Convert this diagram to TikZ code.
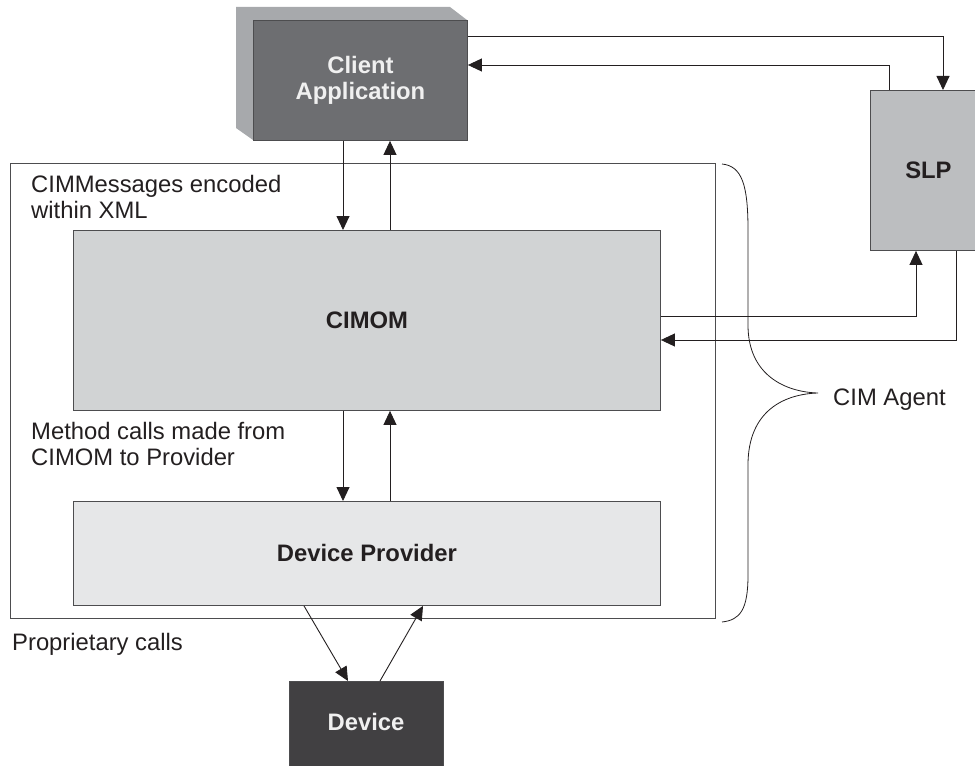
\documentclass[tikz,border=0pt]{standalone}
\usepackage{fontspec}
\setmainfont{Liberation Sans}
\usetikzlibrary{arrows.meta}
\definecolor{txt}{HTML}{231F20}
\definecolor{edge}{HTML}{4D4D4F}
\definecolor{gA}{HTML}{D1D3D4}
\definecolor{gB}{HTML}{E6E7E8}
\definecolor{gC}{HTML}{BCBEC0}
\definecolor{gFront}{HTML}{6D6E71}
\definecolor{gSide}{HTML}{A7A9AC}
\definecolor{gDev}{HTML}{414042}
\tikzset{
  box/.style={draw=edge, line width=0.9bp, rectangle, inner sep=0pt, anchor=north west,
    font=\fontsize{23.9}{26.5}\selectfont\bfseries, text=txt, align=center},
  lbl/.style={inner sep=0pt, font=\fontsize{23.9}{26}\selectfont, text=txt, align=left},
  arr/.style={draw=txt, line width=0.9bp, -{Triangle[length=14bp,width=13bp]}},
}
\begin{document}
\begin{tikzpicture}[x=1bp,y=-1bp]
\useasboundingbox (0,0) rectangle (975,766);
% helper coordinates
\coordinate (xa) at (343,0);
\coordinate (xb) at (390,0);
\coordinate (x889) at (889,0);
\coordinate (x943) at (943,0);
\coordinate (x916) at (916,0);
\coordinate (x956) at (956,0);
\coordinate (x304) at (304,0);
\coordinate (x348) at (348,0);
\coordinate (x380) at (380,0);
\coordinate (x423) at (423,0);
\coordinate (y36) at (0,36);
\coordinate (y65) at (0,65);
\coordinate (y316) at (0,316);
\coordinate (y340) at (0,340);
% outer CIM agent box
\node[box, minimum width=705bp, minimum height=455bp] (agent) at (10,163) {};
% client application (3D)
\fill[gSide] (236,7) -- (450,7) -- (467,20) -- (253,20) -- (253,140) -- (236,128) -- cycle;
\node[box, fill=gFront, text=white!94!black, minimum width=214bp, minimum height=120bp] (client) at (253,20) {Client\\Application};
% SLP
\node[box, fill=gC, minimum width=116bp, minimum height=160bp] (slp) at (870,90) {SLP};
% CIMOM
\node[box, fill=gA, minimum width=587bp, minimum height=180bp] (cimom) at (73,230) {CIMOM};
% Device provider
\node[box, fill=gB, minimum width=587bp, minimum height=104bp] (prov) at (73,501) {Device Provider};
% Device
\node[box, fill=gDev, minimum width=154bp, minimum height=95bp] (device) at (289,681) {};
\node[font=\fontsize{23.9}{26}\selectfont\bfseries, text=white!94!black, inner sep=0pt] (devicelabel) at (366,722) {Device};
% labels
\node[lbl, anchor=north west] (msg) at (31,175) {CIMMessages encoded\\within XML};
\node[lbl, anchor=north west] (meth) at (31,422) {Method calls made from\\CIMOM to Provider};
\node[lbl, anchor=base west] (prop) at (12,650) {Proprietary calls};
\node[lbl, anchor=base west] (agentlbl) at (833,405) {CIM Agent};
% brace
\draw[txt, line width=0.8bp] (722,164) .. controls (742,166) and (748,185) .. (748,230)
  -- (748,325) .. controls (748,375) and (785,392) .. (818,393)
  .. controls (785,394) and (748,410) .. (748,465)
  -- (748,575) .. controls (748,610) and (740,620) .. (722,622);
% connectors
\draw[arr] (client.south -| xa) -- (cimom.north -| xa);
\draw[arr] (cimom.north -| xb) -- (client.south -| xb);
\draw[arr] (cimom.south -| xa) -- (prov.north -| xa);
\draw[arr] (prov.north -| xb) -- (cimom.south -| xb);
\draw[arr] (client.east |- y36) -| (slp.north -| x943);
\draw[arr] (slp.north -| x889) |- (client.east |- y65);
\draw[arr] (cimom.east |- y316) -| (slp.south -| x916);
\draw[arr] (slp.south -| x956) |- (cimom.east |- y340);
\draw[arr] (prov.south -| x304) -- (device.north -| x348);
\draw[arr] (device.north -| x380) -- (prov.south -| x423);
\end{tikzpicture}
\end{document}
